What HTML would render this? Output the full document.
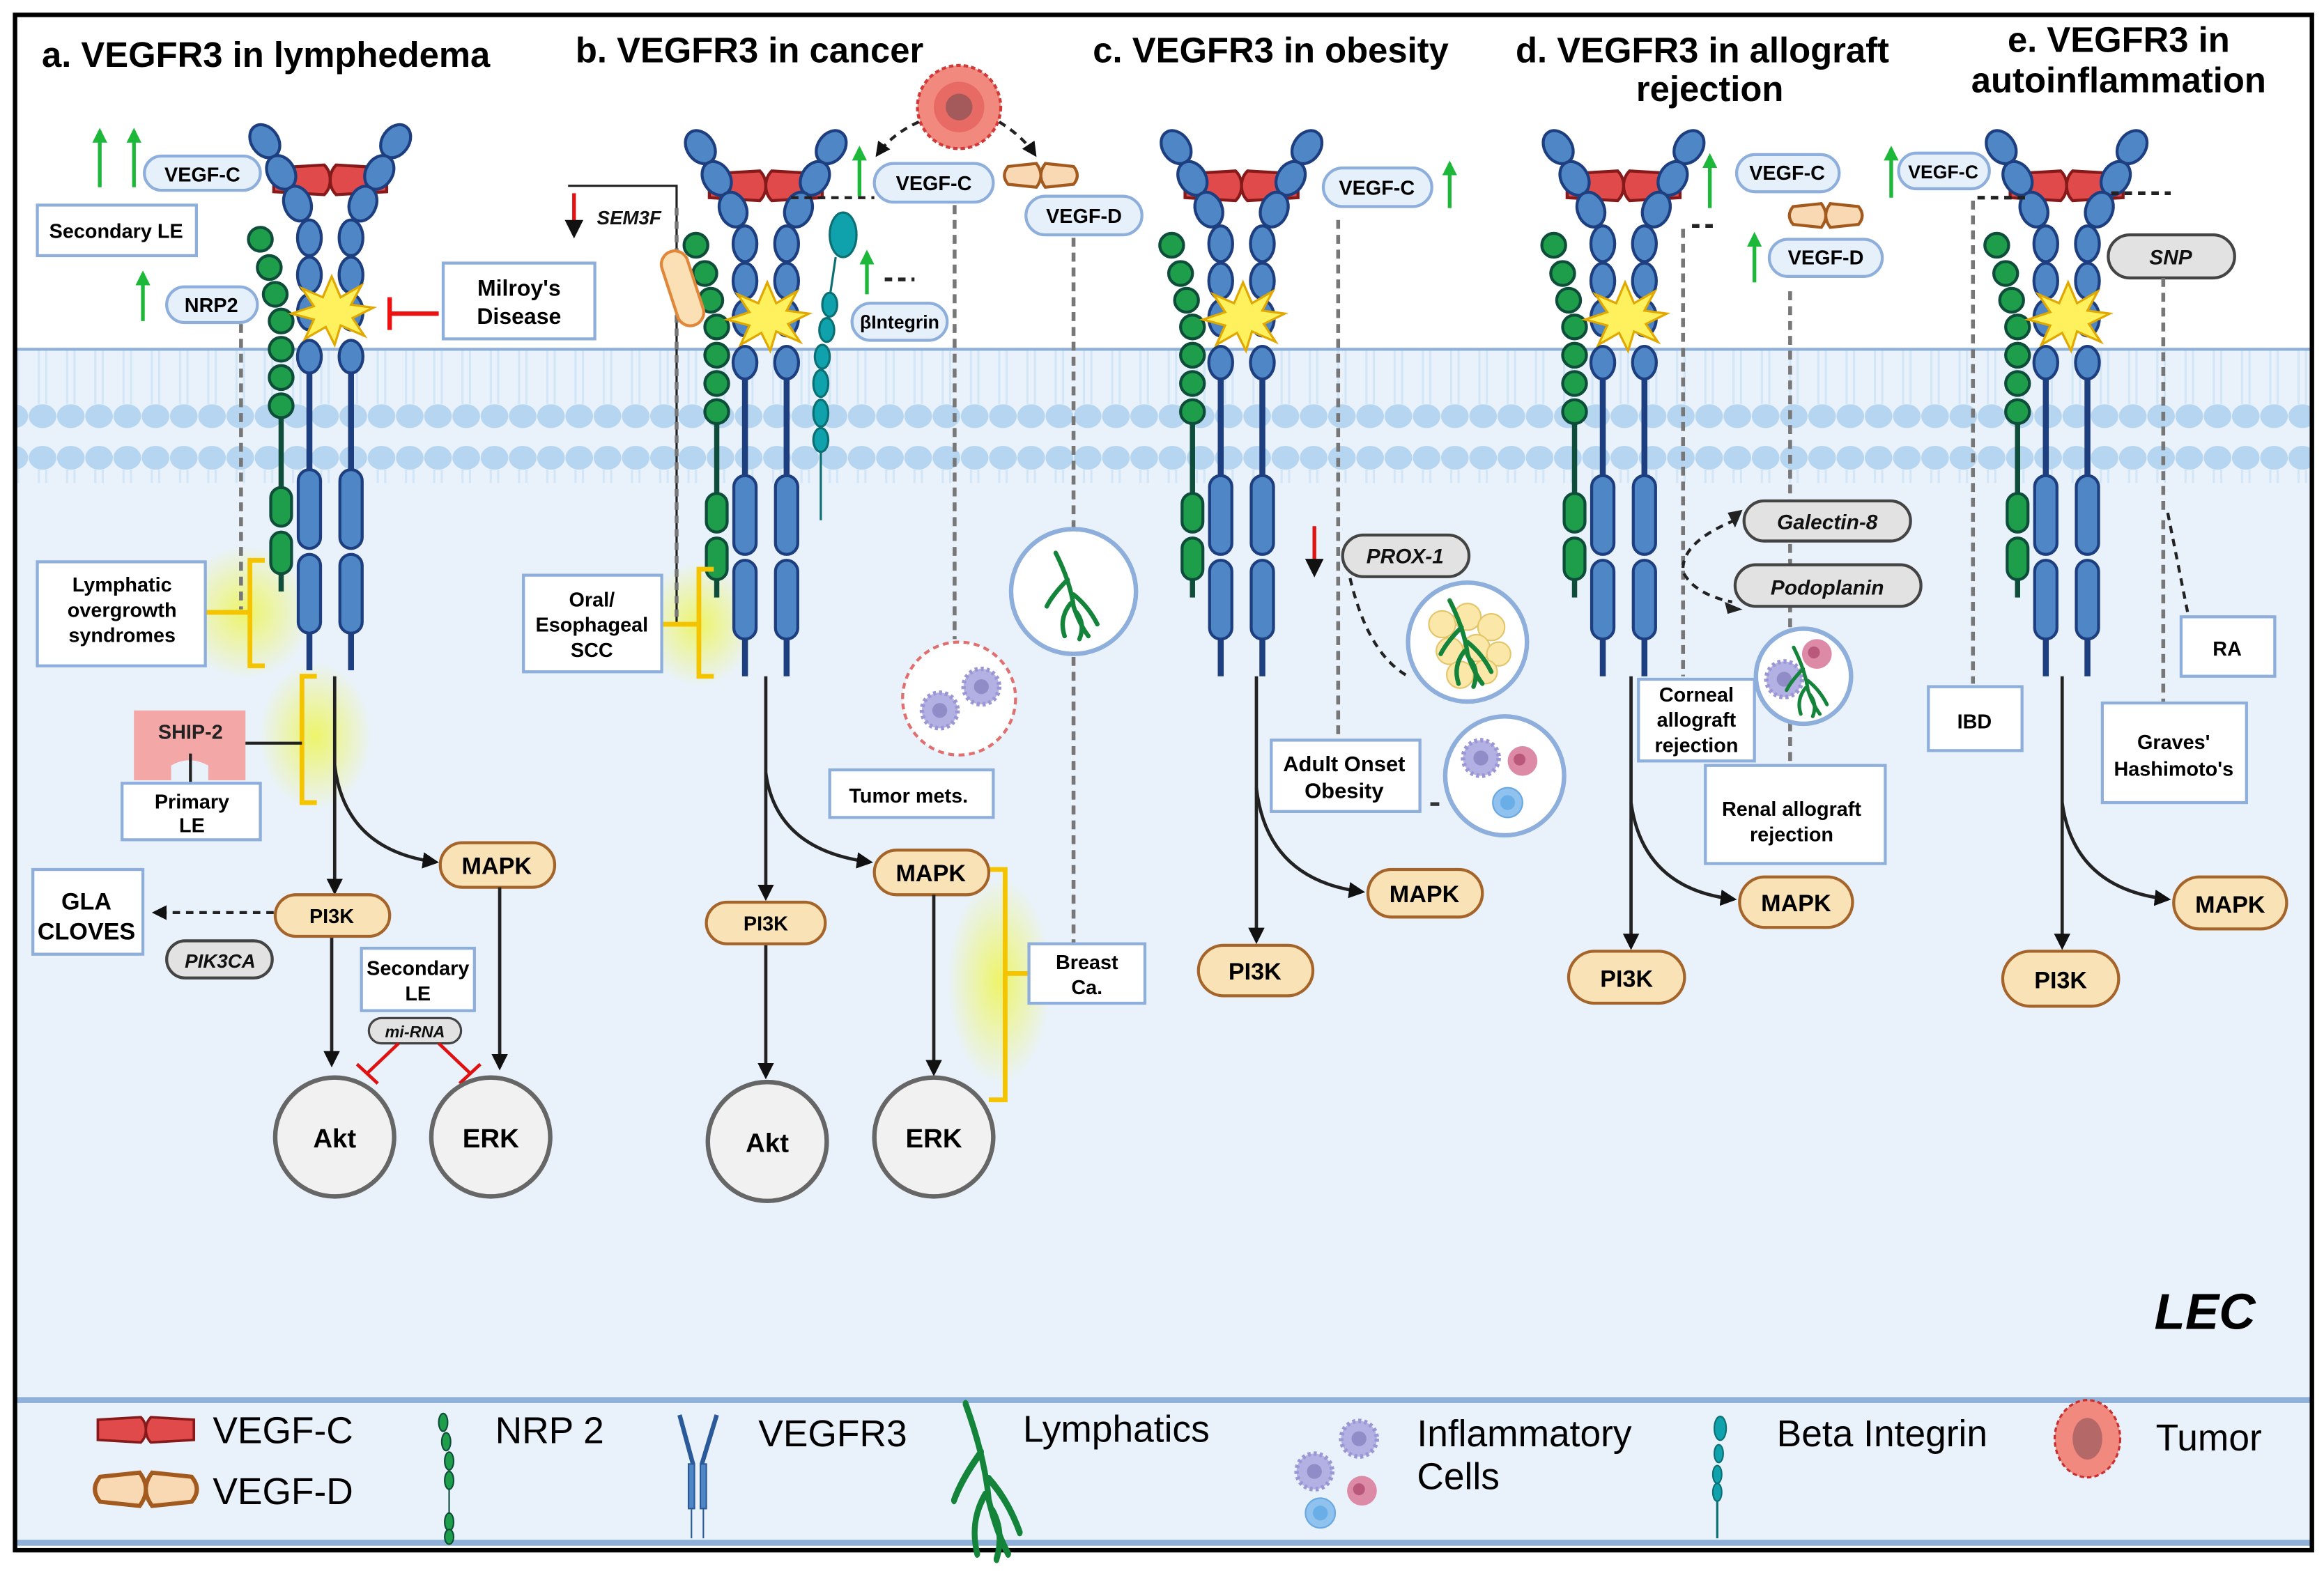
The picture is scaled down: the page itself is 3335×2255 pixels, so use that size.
<!DOCTYPE html>
<html><head><meta charset="utf-8"><style>
html,body{margin:0;padding:0;background:#fff}
svg{display:block}
text{font-family:"Liberation Sans",sans-serif}
.t{font-weight:bold;font-size:23.8px;fill:#000}
.l{font-weight:bold;font-size:13.5px;fill:#000;text-anchor:middle}
.o{font-weight:bold;font-size:16px;fill:#000;text-anchor:middle}
.g{font-weight:bold;font-style:italic;font-size:14px;fill:#111;text-anchor:middle}
.pill{fill:#e6f0fb;stroke:#8eaedb;stroke-width:2}
.box{fill:#fff;stroke:#8eaedb;stroke-width:2}
.op{fill:#f8e2b6;stroke:#a5652a;stroke-width:2}
.gp{fill:#e2e2e2;stroke:#444;stroke-width:2}
.d{stroke:#777;stroke-width:2.6;stroke-dasharray:6 4;fill:none}
.dk{stroke:#222;stroke-width:2;stroke-dasharray:5 4;fill:none}
.ar{stroke:#222;stroke-width:2.2;fill:none}
.ga{stroke:#1db83a;stroke-width:2.5;fill:none}
.yb{stroke:#f5c400;stroke-width:3.2;fill:none}
.circ{fill:#f1f1f1;stroke:#666;stroke-width:3}
.leg{font-size:25px;fill:#000}
</style></head><body>
<svg width="3335" height="2255" viewBox="0 0 1563 1057" xmlns="http://www.w3.org/2000/svg">
<defs>
<marker id="ah" viewBox="0 0 10 10" refX="8" refY="5" markerWidth="5" markerHeight="5" orient="auto"><path d="M0,0L10,5L0,10z" fill="#111"/></marker>
<marker id="gh" viewBox="0 0 10 10" refX="8" refY="5" markerWidth="4" markerHeight="4" orient="auto"><path d="M0,0L10,5L0,10z" fill="#1db83a"/></marker>
<radialGradient id="glow"><stop offset="0" stop-color="#eef55a" stop-opacity="0.9"/><stop offset="1" stop-color="#eef55a" stop-opacity="0"/></radialGradient>
<pattern id="mem" x="0" y="0" width="19" height="100" patternUnits="userSpaceOnUse">
<ellipse cx="9.5" cy="8" rx="9.3" ry="8" fill="#b5d5f0"/>
<ellipse cx="9.5" cy="80" rx="9.3" ry="8" fill="#b5d5f0"/>
<line x1="7" y1="16" x2="7" y2="72" stroke="#d2e6f7" stroke-width="1.5"/>
<line x1="12" y1="16" x2="12" y2="72" stroke="#d2e6f7" stroke-width="1.5"/>
</pattern>
<g id="lc"><path d="M-38,-8 L-4,-10 Q0,-6 0,0 Q0,6 -4,10 L-38,8 Z" fill="#e14a4a" stroke="#861a1a" stroke-width="2"/><path d="M38,-8 L4,-10 Q0,-6 0,0 Q0,6 4,10 L38,8 Z" fill="#e14a4a" stroke="#861a1a" stroke-width="2"/></g>
<g id="ld"><path d="M-22,-6 L-3,-8 Q0,-4 0,0 Q0,4 -3,8 L-22,6 Q-27,0 -22,-6Z" fill="#f8d9b4" stroke="#a25a1e" stroke-width="2"/><path d="M22,-6 L3,-8 Q0,-4 0,0 Q0,4 3,8 L22,6 Q27,0 22,-6Z" fill="#f8d9b4" stroke="#a25a1e" stroke-width="2"/></g>
<polygon id="star" points="0,-24 6,-10 20,-18 13,-5 28,-3 14,4 22,16 6,9 2,22 -4,10 -18,18 -12,5 -27,1 -12,-4 -20,-16 -6,-10" fill="#fff15e" stroke="#e0a800" stroke-width="1.5"/>
<g id="rec">
<g fill="#1e9e4a" stroke="#0d4d3a" stroke-width="2">
<circle cx="-47" cy="161" r="8"/><circle cx="-41" cy="180" r="8"/><circle cx="-37" cy="198" r="8"/><circle cx="-33" cy="216" r="8"/><circle cx="-33" cy="235" r="8"/><circle cx="-33" cy="254" r="8"/><circle cx="-33" cy="273" r="8"/>
<line x1="-33" y1="281" x2="-33" y2="328" stroke-width="3.5"/>
<rect x="-40" y="328" width="14" height="26" rx="7"/><rect x="-40" y="358" width="14" height="28" rx="7"/>
<line x1="-33" y1="386" x2="-33" y2="398" stroke-width="3.5"/>
</g>
<use href="#lc" x="0" y="121"/>
<g fill="#4f86c6" stroke="#1d3f80" stroke-width="2">
<ellipse cx="-44" cy="95" rx="9" ry="12" transform="rotate(-35 -44 95)"/><ellipse cx="-33" cy="116" rx="9" ry="12" transform="rotate(-30 -33 116)"/><ellipse cx="-22" cy="137" rx="9" ry="12" transform="rotate(-20 -22 137)"/>
<ellipse cx="-14" cy="160" rx="8" ry="12"/><ellipse cx="-14" cy="185" rx="8" ry="12"/><ellipse cx="-14" cy="210" rx="8" ry="12"/><ellipse cx="-14" cy="240" rx="8" ry="11"/>
<ellipse cx="44" cy="95" rx="9" ry="12" transform="rotate(35 44 95)"/><ellipse cx="33" cy="116" rx="9" ry="12" transform="rotate(30 33 116)"/><ellipse cx="22" cy="137" rx="9" ry="12" transform="rotate(20 22 137)"/>
<ellipse cx="14" cy="160" rx="8" ry="12"/><ellipse cx="14" cy="185" rx="8" ry="12"/><ellipse cx="14" cy="210" rx="8" ry="12"/><ellipse cx="14" cy="240" rx="8" ry="11"/>
<line x1="-14" y1="251" x2="-14" y2="318" stroke-width="4"/><line x1="14" y1="251" x2="14" y2="318" stroke-width="4"/>
<rect x="-21.5" y="316" width="15" height="53" rx="7.5"/><rect x="6.5" y="316" width="15" height="53" rx="7.5"/>
<rect x="-21.5" y="373" width="15" height="53" rx="7.5"/><rect x="6.5" y="373" width="15" height="53" rx="7.5"/>
<line x1="-14" y1="426" x2="-14" y2="451" stroke-width="4"/><line x1="14" y1="426" x2="14" y2="451" stroke-width="4"/>
</g>
<use href="#star" x="1" y="210"/>
</g>
<g id="lym" fill="none" stroke="#13843a" stroke-width="3" stroke-linecap="round">
<path d="M-12,-28 Q-2,-8 0,8 Q4,20 10,28"/><path d="M0,0 Q10,8 16,20"/><path d="M-2,6 Q-10,16 -6,28"/><path d="M2,12 Q8,20 4,30"/><path d="M-4,-10 Q-14,0 -18,8"/>
</g>
<g id="icell"><circle r="12" fill="#b3b0e3" stroke="#9a97d4" stroke-width="3" stroke-dasharray="2 2"/><circle r="5" fill="#8f8cc7"/></g>
<g id="rcell"><circle r="10" fill="#dc8aa5"/><circle cx="-2" cy="-1" r="4" fill="#b9587a"/></g>
<g id="bcell"><circle r="10" fill="#8fc2ef" stroke="#6aa8e0"/><circle r="5" fill="#6aaee8"/></g>
</defs>

<rect width="1563" height="1057" fill="#fff"/>
<rect x="11" y="235" width="1543" height="805" fill="#e9f2fb"/>
<rect x="11" y="235" width="1543" height="90" fill="url(#mem)"/>
<rect x="11" y="940" width="1543" height="4" fill="#8fb0d8"/>
<rect x="11" y="1036" width="1543" height="4" fill="#8fb0d8"/>
<rect x="11" y="234" width="1543" height="2" fill="#8fb0d8"/>
<rect x="10" y="10" width="1545" height="1033" fill="none" stroke="#000" stroke-width="3"/>

<text class="t" x="28" y="45">a. VEGFR3 in lymphedema</text>
<text class="t" x="387" y="42">b. VEGFR3 in cancer</text>
<text class="t" x="735" y="42">c. VEGFR3 in obesity</text>
<text class="t" x="1145" y="42" text-anchor="middle">d. VEGFR3 in allograft</text>
<text class="t" x="1150" y="68" text-anchor="middle">rejection</text>
<text class="t" x="1425" y="35" text-anchor="middle">e. VEGFR3 in</text>
<text class="t" x="1425" y="62" text-anchor="middle">autoinflammation</text>

<ellipse cx="165" cy="412" rx="45" ry="45" fill="url(#glow)"/>
<ellipse cx="212" cy="495" rx="38" ry="50" fill="url(#glow)"/>
<ellipse cx="470" cy="420" rx="38" ry="42" fill="url(#glow)"/>
<ellipse cx="672" cy="660" rx="35" ry="70" fill="url(#glow)"/>

<use href="#rec" x="222" y="0"/>
<use href="#rec" x="515" y="4"/>
<use href="#rec" x="835" y="4"/>
<use href="#rec" x="1092" y="4"/>
<use href="#rec" x="1390" y="4"/>

<line class="ga" x1="67" y1="126" x2="67" y2="88" marker-end="url(#gh)"/>
<line class="ga" x1="90" y1="126" x2="90" y2="88" marker-end="url(#gh)"/>
<line class="ga" x1="96" y1="216" x2="96" y2="184" marker-end="url(#gh)"/>
<rect class="pill" x="97" y="105" width="78" height="23" rx="11.5"/><text class="l" x="136" y="122">VEGF-C</text>
<rect class="box" x="25" y="138" width="107" height="34"/><text class="l" x="78" y="160">Secondary LE</text>
<rect class="pill" x="112" y="193" width="61" height="24" rx="12"/><text class="l" x="142" y="210">NRP2</text>
<rect class="box" x="298" y="177" width="102" height="51"/><text class="o" style="font-size:15px" x="349" y="199">Milroy's</text><text class="o" style="font-size:15px" x="349" y="218">Disease</text>
<line x1="295" y1="211" x2="262" y2="211" stroke="#ee1111" stroke-width="3"/><line x1="262" y1="200" x2="262" y2="222" stroke="#ee1111" stroke-width="3"/>
<line class="d" x1="162" y1="218" x2="162" y2="410"/>
<path class="yb" d="M178,377 H168 V448 H178 M168,412 H138"/>
<rect class="box" x="25" y="378" width="113" height="70"/><text class="l" x="82" y="398">Lymphatic</text><text class="l" x="82" y="415">overgrowth</text><text class="l" x="82" y="432">syndromes</text>
<path class="yb" d="M213,455 H203 V540 H213"/>
<path d="M90,478 H165 V525 H140 V515 Q127,508 115,515 V525 H90 Z" fill="#f3a7a7"/>
<text class="l" x="128" y="497" style="fill:#222">SHIP-2</text>
<line x1="128" y1="507" x2="128" y2="527" stroke="#222" stroke-width="2"/>
<line x1="165" y1="500" x2="203" y2="500" stroke="#222" stroke-width="2"/>
<rect class="box" x="82" y="527" width="93" height="38"/><text class="l" x="129" y="544">Primary</text><text class="l" x="129" y="560">LE</text>
<line class="ar" x1="225" y1="455" x2="225" y2="600" marker-end="url(#ah)"/>
<path class="ar" d="M225,515 Q232,572 293,580" marker-end="url(#ah)"/>
<rect class="op" x="185" y="602" width="77" height="28" rx="14"/><text class="l" x="223" y="621">PI3K</text>
<rect class="op" x="296" y="567" width="77" height="30" rx="15"/><text class="o" x="334" y="588">MAPK</text>
<line class="dk" x1="184" y1="614" x2="104" y2="614" marker-end="url(#ah)"/>
<rect class="box" x="22" y="585" width="74" height="57"/><text class="o" x="58" y="612">GLA</text><text class="o" x="58" y="632">CLOVES</text>
<rect class="gp" x="112" y="633" width="71" height="25" rx="12.5"/><text class="g" x="148" y="651" style="font-size:13px">PIK3CA</text>
<rect class="box" x="243" y="638" width="76" height="42"/><text class="l" x="281" y="656">Secondary</text><text class="l" x="281" y="673">LE</text>
<rect class="gp" x="248" y="685" width="62" height="17" rx="8.5" style="stroke-width:1.5"/><text class="g" x="279" y="698" style="font-size:11px">mi-RNA</text>
<line class="ar" x1="223" y1="631" x2="223" y2="716" marker-end="url(#ah)"/>
<line class="ar" x1="336" y1="597" x2="336" y2="718" marker-end="url(#ah)"/>
<path d="M268,702 L247,722 M240,716 L254,729" stroke="#e01111" stroke-width="2.2" fill="none"/>
<path d="M295,702 L316,722 M309,729 L323,716" stroke="#e01111" stroke-width="2.2" fill="none"/>
<circle class="circ" cx="225" cy="765" r="40"/><text class="o" x="225" y="772" style="font-size:18px">Akt</text>
<circle class="circ" cx="330" cy="765" r="40"/><text class="o" x="330" y="772" style="font-size:18px">ERK</text>

<path d="M382,125 H455 V420" stroke="#222" stroke-width="1.5" fill="none"/>
<line class="d" x1="455" y1="140" x2="455" y2="420" style="stroke-dasharray:5 4"/>
<line x1="386" y1="130" x2="386" y2="158" stroke="#e01111" stroke-width="2.5" marker-end="url(#ah)"/>
<text class="g" x="423" y="151" style="font-size:13px">SEM3F</text>
<rect x="450" y="168" width="18" height="52" rx="9" fill="#fbe0b5" stroke="#e0873a" stroke-width="2" transform="rotate(-18 459 194)"/>
<circle cx="645" cy="72" r="28" fill="#f2897f" stroke="#d23a3a" stroke-width="2" stroke-dasharray="3 2"/><circle cx="645" cy="72" r="17" fill="#e86a64"/><circle cx="645" cy="72" r="9" fill="#a45a5a"/>
<path class="dk" d="M618,82 Q600,90 590,104" marker-end="url(#ah)"/>
<path class="dk" d="M672,82 Q688,92 696,104" marker-end="url(#ah)"/>
<line class="ga" x1="578" y1="132" x2="578" y2="100" marker-end="url(#gh)"/>
<line class="dk" x1="532" y1="133" x2="588" y2="133"/>
<rect class="pill" x="588" y="110" width="80" height="26" rx="13"/><text class="l" x="628" y="128">VEGF-C</text>
<use href="#ld" x="700" y="118"/>
<rect class="pill" x="690" y="132" width="78" height="26" rx="13"/><text class="l" x="729" y="150">VEGF-D</text>
<g stroke="#0b6f73" stroke-width="1.5" fill="#0fa2ac">
<ellipse cx="567" cy="158" rx="9" ry="15"/><line x1="562" y1="173" x2="558" y2="200"/>
<ellipse cx="558" cy="205" rx="5" ry="8"/><ellipse cx="556" cy="222" rx="5" ry="8"/><ellipse cx="553" cy="240" rx="5" ry="8"/><ellipse cx="552" cy="258" rx="5" ry="9"/><ellipse cx="552" cy="278" rx="5" ry="9"/><ellipse cx="552" cy="296" rx="5" ry="8"/>
<line x1="552" y1="304" x2="552" y2="350"/>
</g>
<line class="ga" x1="583" y1="198" x2="583" y2="170" marker-end="url(#gh)"/>
<line class="dk" x1="595" y1="188" x2="615" y2="188" style="stroke-width:2.5"/>
<rect class="pill" x="573" y="204" width="64" height="25" rx="12.5"/><text class="l" x="605" y="221" style="font-size:12.5px">βIntegrin</text>
<path class="yb" d="M480,383 H470 V455 H480 M470,420 H445"/>
<rect class="box" x="352" y="387" width="93" height="65"/><text class="l" x="398" y="408">Oral/</text><text class="l" x="398" y="425">Esophageal</text><text class="l" x="398" y="442">SCC</text>
<line class="d" x1="642" y1="138" x2="642" y2="430"/>
<circle cx="645" cy="470" r="38" fill="#fff" stroke="#e07070" stroke-width="2" stroke-dasharray="4 3"/>
<use href="#icell" x="632" y="478"/><use href="#icell" x="660" y="462"/>
<rect class="box" x="558" y="518" width="110" height="32"/><text class="l" x="611" y="540">Tumor mets.</text>
<line class="d" x1="722" y1="160" x2="722" y2="356"/>
<circle cx="722" cy="398" r="42" fill="#fff" stroke="#8eaedb" stroke-width="3"/>
<use href="#lym" x="722" y="400"/>
<line class="d" x1="722" y1="442" x2="722" y2="636"/>
<path class="yb" d="M665,585 H676 V740 H665 M676,655 H692"/>
<rect class="box" x="692" y="635" width="78" height="40"/><text class="l" x="731" y="652">Breast</text><text class="l" x="731" y="669">Ca.</text>
<line class="ar" x1="515" y1="455" x2="515" y2="604" marker-end="url(#ah)"/>
<path class="ar" d="M515,520 Q522,572 585,580" marker-end="url(#ah)"/>
<rect class="op" x="475" y="607" width="80" height="28" rx="14"/><text class="l" x="515" y="626">PI3K</text>
<rect class="op" x="588" y="572" width="77" height="30" rx="15"/><text class="o" x="626" y="593">MAPK</text>
<line class="ar" x1="515" y1="636" x2="515" y2="724" marker-end="url(#ah)"/>
<line class="ar" x1="628" y1="602" x2="628" y2="722" marker-end="url(#ah)"/>
<circle class="circ" cx="516" cy="768" r="40"/><text class="o" x="516" y="775" style="font-size:18px">Akt</text>
<circle class="circ" cx="628" cy="765" r="40"/><text class="o" x="628" y="772" style="font-size:18px">ERK</text>

<rect class="pill" x="890" y="113" width="73" height="26" rx="13"/><text class="l" x="926" y="131">VEGF-C</text>
<line class="ga" x1="975" y1="140" x2="975" y2="110" marker-end="url(#gh)"/>
<line class="d" x1="900" y1="148" x2="900" y2="497"/>
<line x1="884" y1="354" x2="884" y2="386" stroke="#e01111" stroke-width="2.5" marker-end="url(#ah)"/>
<rect class="gp" x="903" y="360" width="85" height="28" rx="14"/><text class="g" x="945" y="379">PROX-1</text>
<path class="dk" d="M908,389 Q920,440 947,455"/>
<circle cx="987" cy="432" r="40" fill="#fff" stroke="#8eaedb" stroke-width="3"/>
<g fill="#fbe8a8" stroke="#e3c56a" stroke-width="1">
<circle cx="970" cy="420" r="9"/><circle cx="987" cy="415" r="9"/><circle cx="1003" cy="422" r="9"/><circle cx="975" cy="438" r="9"/><circle cx="993" cy="436" r="9"/><circle cx="1008" cy="440" r="8"/><circle cx="982" cy="454" r="9"/><circle cx="999" cy="452" r="8"/></g>
<use href="#lym" x="987" y="432"/>
<rect class="box" x="855" y="498" width="100" height="48"/><text class="l" x="904" y="519" style="font-size:14.5px">Adult Onset</text><text class="l" x="904" y="537" style="font-size:14.5px">Obesity</text>
<line x1="962" y1="541" x2="968" y2="541" stroke="#333" stroke-width="2.5"/>
<circle cx="1012" cy="522" r="40" fill="#fff" stroke="#8eaedb" stroke-width="3"/>
<use href="#icell" x="996" y="510"/><use href="#rcell" x="1024" y="512"/><use href="#bcell" x="1014" y="540"/>
<line class="ar" x1="845" y1="455" x2="845" y2="633" marker-end="url(#ah)"/>
<path class="ar" d="M845,530 Q852,592 916,600" marker-end="url(#ah)"/>
<rect class="op" x="806" y="636" width="77" height="34" rx="17"/><text class="o" x="844" y="659">PI3K</text>
<rect class="op" x="920" y="585" width="77" height="32" rx="16"/><text class="o" x="958" y="607">MAPK</text>

<line class="ga" x1="1150" y1="140" x2="1150" y2="105" marker-end="url(#gh)"/>
<line class="ga" x1="1180" y1="190" x2="1180" y2="158" marker-end="url(#gh)"/>
<rect class="pill" x="1168" y="104" width="69" height="25" rx="12.5"/><text class="l" x="1202" y="121">VEGF-C</text>
<use href="#ld" x="1228" y="145"/>
<rect class="pill" x="1190" y="161" width="76" height="25" rx="12.5"/><text class="l" x="1228" y="178">VEGF-D</text>
<line class="dk" x1="1138" y1="152" x2="1154" y2="152" style="stroke-width:2.5"/>
<line class="d" x1="1132" y1="154" x2="1132" y2="455"/>
<line class="d" x1="1204" y1="196" x2="1204" y2="515"/>
<path class="dk" d="M1167,350 Q1130,365 1132,385 Q1140,400 1165,405" />
<path d="M1162,345 L1172,343 L1167,355 Z" fill="#222"/><path d="M1160,405 L1172,410 L1162,413 Z" fill="#222"/>
<rect class="gp" x="1173" y="337" width="112" height="27" rx="13.5"/><text class="g" x="1229" y="356">Galectin-8</text>
<rect class="gp" x="1167" y="380" width="125" height="28" rx="14"/><text class="g" x="1229" y="400">Podoplanin</text>
<circle cx="1213" cy="455" r="32" fill="#fff" stroke="#8eaedb" stroke-width="3"/>
<use href="#icell" x="1200" y="457"/><use href="#rcell" x="1222" y="440"/>
<g transform="translate(1216,458) scale(0.8)"><use href="#lym"/></g>
<rect class="box" x="1102" y="457" width="78" height="55"/><text class="l" x="1141" y="472">Corneal</text><text class="l" x="1141" y="489">allograft</text><text class="l" x="1141" y="506">rejection</text>
<rect class="box" x="1147" y="515" width="121" height="66"/><text class="l" x="1205" y="549">Renal allograft</text><text class="l" x="1205" y="566">rejection</text>
<line class="ar" x1="1097" y1="455" x2="1097" y2="637" marker-end="url(#ah)"/>
<path class="ar" d="M1097,540 Q1105,598 1166,605" marker-end="url(#ah)"/>
<rect class="op" x="1055" y="640" width="78" height="35" rx="17.5"/><text class="o" x="1094" y="664">PI3K</text>
<rect class="op" x="1170" y="590" width="76" height="34" rx="17"/><text class="o" x="1208" y="613">MAPK</text>

<line class="ga" x1="1272" y1="133" x2="1272" y2="100" marker-end="url(#gh)"/>
<rect class="pill" x="1277" y="103" width="61" height="24" rx="12"/><text class="l" x="1307" y="120" style="font-size:12.5px">VEGF-C</text>
<line class="dk" x1="1330" y1="133" x2="1362" y2="133" style="stroke-width:2.5"/>
<line class="dk" x1="1420" y1="130" x2="1460" y2="130" style="stroke-width:2.5"/>
<line class="d" x1="1327" y1="135" x2="1327" y2="460"/>
<rect class="box" x="1297" y="462" width="63" height="43"/><text class="l" x="1328" y="490">IBD</text>
<rect class="gp" x="1418" y="158" width="85" height="29" rx="14.5"/><text class="g" x="1460" y="178">SNP</text>
<line class="d" x1="1455" y1="187" x2="1455" y2="345"/>
<path class="dk" d="M1458,345 L1472,415"/>
<line class="d" x1="1455" y1="350" x2="1455" y2="473"/>
<rect class="box" x="1467" y="415" width="63" height="40"/><text class="l" x="1498" y="441">RA</text>
<rect class="box" x="1414" y="473" width="97" height="67"/><text class="l" x="1462" y="504">Graves'</text><text class="l" x="1462" y="522">Hashimoto's</text>
<line class="ar" x1="1387" y1="455" x2="1387" y2="637" marker-end="url(#ah)"/>
<path class="ar" d="M1387,540 Q1395,598 1458,605" marker-end="url(#ah)"/>
<rect class="op" x="1347" y="640" width="78" height="37" rx="18.5"/><text class="o" x="1386" y="665">PI3K</text>
<rect class="op" x="1462" y="590" width="76" height="35" rx="17.5"/><text class="o" x="1500" y="614">MAPK</text>

<text x="1483" y="894" style="font-weight:bold;font-style:italic;font-size:34px;text-anchor:middle">LEC</text>

<g transform="translate(98,962) scale(0.85)"><use href="#lc"/></g>
<text class="leg" x="143" y="971">VEGF-C</text>
<g transform="translate(98,1002) scale(1.4)"><use href="#ld"/></g>
<text class="leg" x="143" y="1012">VEGF-D</text>
<g fill="#1e9e4a" stroke="#0d4d3a" stroke-width="1">
<ellipse cx="298" cy="957" rx="3" ry="6"/><ellipse cx="300" cy="970" rx="3" ry="6"/><ellipse cx="302" cy="983" rx="3" ry="6"/><ellipse cx="302" cy="996" rx="3" ry="6"/>
<line x1="302" y1="1002" x2="302" y2="1018"/><ellipse cx="302" cy="1024" rx="3" ry="6"/><ellipse cx="302" cy="1034" rx="3" ry="5"/></g>
<text class="leg" x="333" y="971">NRP 2</text>
<g fill="#4f86c6" stroke="#2a5a9a" stroke-width="1">
<path d="M457,952 L466,985 M482,952 L472,985" stroke-width="3"/>
<rect x="463" y="985" width="4" height="30"/><rect x="471" y="985" width="4" height="30"/>
<line x1="465" y1="1015" x2="465" y2="1035"/><line x1="473" y1="1015" x2="473" y2="1035"/></g>
<text class="leg" x="510" y="973">VEGFR3</text>
<g transform="translate(665,995) scale(1.3,1.8)"><use href="#lym"/></g>
<text class="leg" x="688" y="970">Lymphatics</text>
<use href="#icell" x="914" y="968"/><use href="#icell" x="884" y="990"/><use href="#rcell" x="916" y="1003"/><use href="#bcell" x="888" y="1018"/>
<text class="leg" x="953" y="973">Inflammatory</text>
<text class="leg" x="953" y="1002">Cells</text>
<g stroke="#0b6f73" fill="#0fa2ac"><ellipse cx="1157" cy="961" rx="4" ry="8"/><ellipse cx="1156" cy="978" rx="3" ry="6"/><ellipse cx="1155" cy="992" rx="3" ry="6"/><ellipse cx="1155" cy="1004" rx="3" ry="6"/><line x1="1155" y1="1010" x2="1155" y2="1035" stroke-width="1.5"/></g>
<text class="leg" x="1195" y="973">Beta Integrin</text>
<ellipse cx="1404" cy="968" rx="22" ry="26" fill="#f2897f" stroke="#c73030" stroke-width="1.5" stroke-dasharray="3 2"/><ellipse cx="1404" cy="968" rx="10" ry="14" fill="#b56868"/>
<text class="leg" x="1450" y="976">Tumor</text>
</svg>
</body></html>
